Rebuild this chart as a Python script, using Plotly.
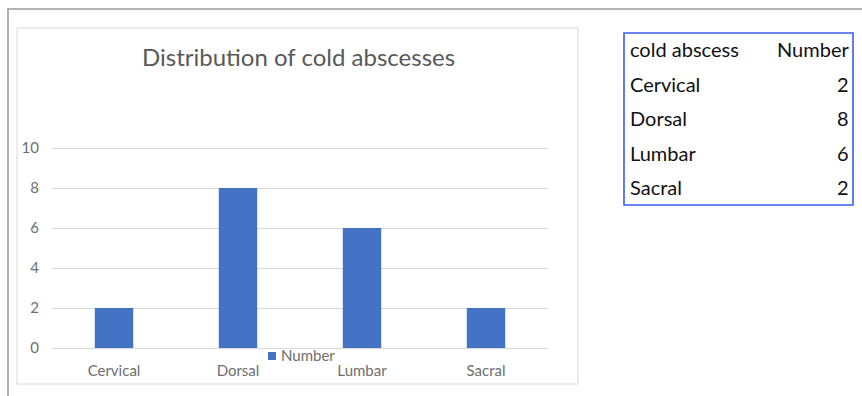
import plotly.graph_objects as go

# Data
categories = ["Cervical", "Dorsal", "Lumbar", "Sacral"]
counts = [2, 8, 6, 2]
y_ticks = [0, 2, 4, 6, 8, 10]
table_header = ["cold abscess", "Number"]
series_name = "Number"

W, H = 862, 396
BAR_COLOR = "#4472C4"
TEXT_GRAY = "#595959"
TICK_GRAY = "#6e6e6e"
FONT = "Lato, 'Open Sans', sans-serif"


def px_x(v):
    return v / W


def px_y(v):
    return 1 - v / H


fig = go.Figure()
fig.add_trace(go.Bar(
    x=categories, y=counts, name=series_name,
    marker=dict(color=BAR_COLOR, line=dict(width=0)),
    width=0.31, showlegend=False,
))

shapes = [
    # outer frame (top and left edges)
    dict(type="line", xref="paper", yref="paper", x0=px_x(7), x1=1.0,
         y0=px_y(9), y1=px_y(9), line=dict(color="#9a9a9a", width=1.5)),
    dict(type="line", xref="paper", yref="paper", x0=px_x(8), x1=px_x(8),
         y0=px_y(9), y1=0, line=dict(color="#9a9a9a", width=1.5)),
    # chart area border
    dict(type="rect", xref="paper", yref="paper", x0=px_x(17), x1=px_x(578),
         y0=px_y(384), y1=px_y(28), line=dict(color="#d9d9d9", width=1)),
    # table border
    dict(type="rect", xref="paper", yref="paper", x0=px_x(624), x1=px_x(853),
         y0=px_y(205), y1=px_y(33), line=dict(color="#3a5cf0", width=1.6)),
    # legend swatch
    dict(type="rect", xref="paper", yref="paper", x0=px_x(268), x1=px_x(276),
         y0=px_y(360), y1=px_y(352), fillcolor=BAR_COLOR, line=dict(width=0)),
]

annotations = [
    dict(text="Distribution of cold abscesses", xref="paper", yref="paper",
         x=px_x(298), y=px_y(57), xanchor="center", yanchor="middle",
         showarrow=False, font=dict(family=FONT, size=24, color=TEXT_GRAY)),
    dict(text=series_name, xref="paper", yref="paper",
         x=px_x(279), y=px_y(355), xanchor="left", yanchor="middle",
         showarrow=False, font=dict(family=FONT, size=15, color=TICK_GRAY)),
]

# table of values beside the chart
row_step = 34.6
first_row = 49
table_rows = [table_header] + [[c, str(v)] for c, v in zip(categories, counts)]
for i, (left, right) in enumerate(table_rows):
    yy = px_y(first_row + i * row_step)
    annotations.append(dict(text=left, xref="paper", yref="paper", x=px_x(628), y=yy,
                            xanchor="left", yanchor="middle", showarrow=False,
                            font=dict(family=FONT, size=20, color="#111111")))
    annotations.append(dict(text=right, xref="paper", yref="paper", x=px_x(851), y=yy,
                            xanchor="right", yanchor="middle", showarrow=False,
                            font=dict(family=FONT, size=20, color="#111111")))

fig.update_layout(
    width=W, height=H,
    margin=dict(l=0, r=0, t=0, b=0, autoexpand=False),
    paper_bgcolor="white", plot_bgcolor="white",
    font=dict(family=FONT, color=TEXT_GRAY),
    showlegend=False,
    xaxis=dict(domain=[px_x(52), px_x(548)], showgrid=False, showline=False,
               ticks="", tickfont=dict(size=15, color=TICK_GRAY), ticklen=0,
               ticklabelstandoff=12, automargin=False, fixedrange=True),
    yaxis=dict(domain=[px_y(348), px_y(146)], range=[0, 10.1], tickvals=y_ticks,
               showgrid=True, gridcolor="#d9d9d9", gridwidth=1, zeroline=True,
               zerolinecolor="#d9d9d9", zerolinewidth=1, showline=False,
               tickfont=dict(size=15, color=TICK_GRAY), ticklabelstandoff=12,
               automargin=False, fixedrange=True),
    bargap=0.69,
    shapes=shapes,
    annotations=annotations,
)

fig.write_html("out.html")
